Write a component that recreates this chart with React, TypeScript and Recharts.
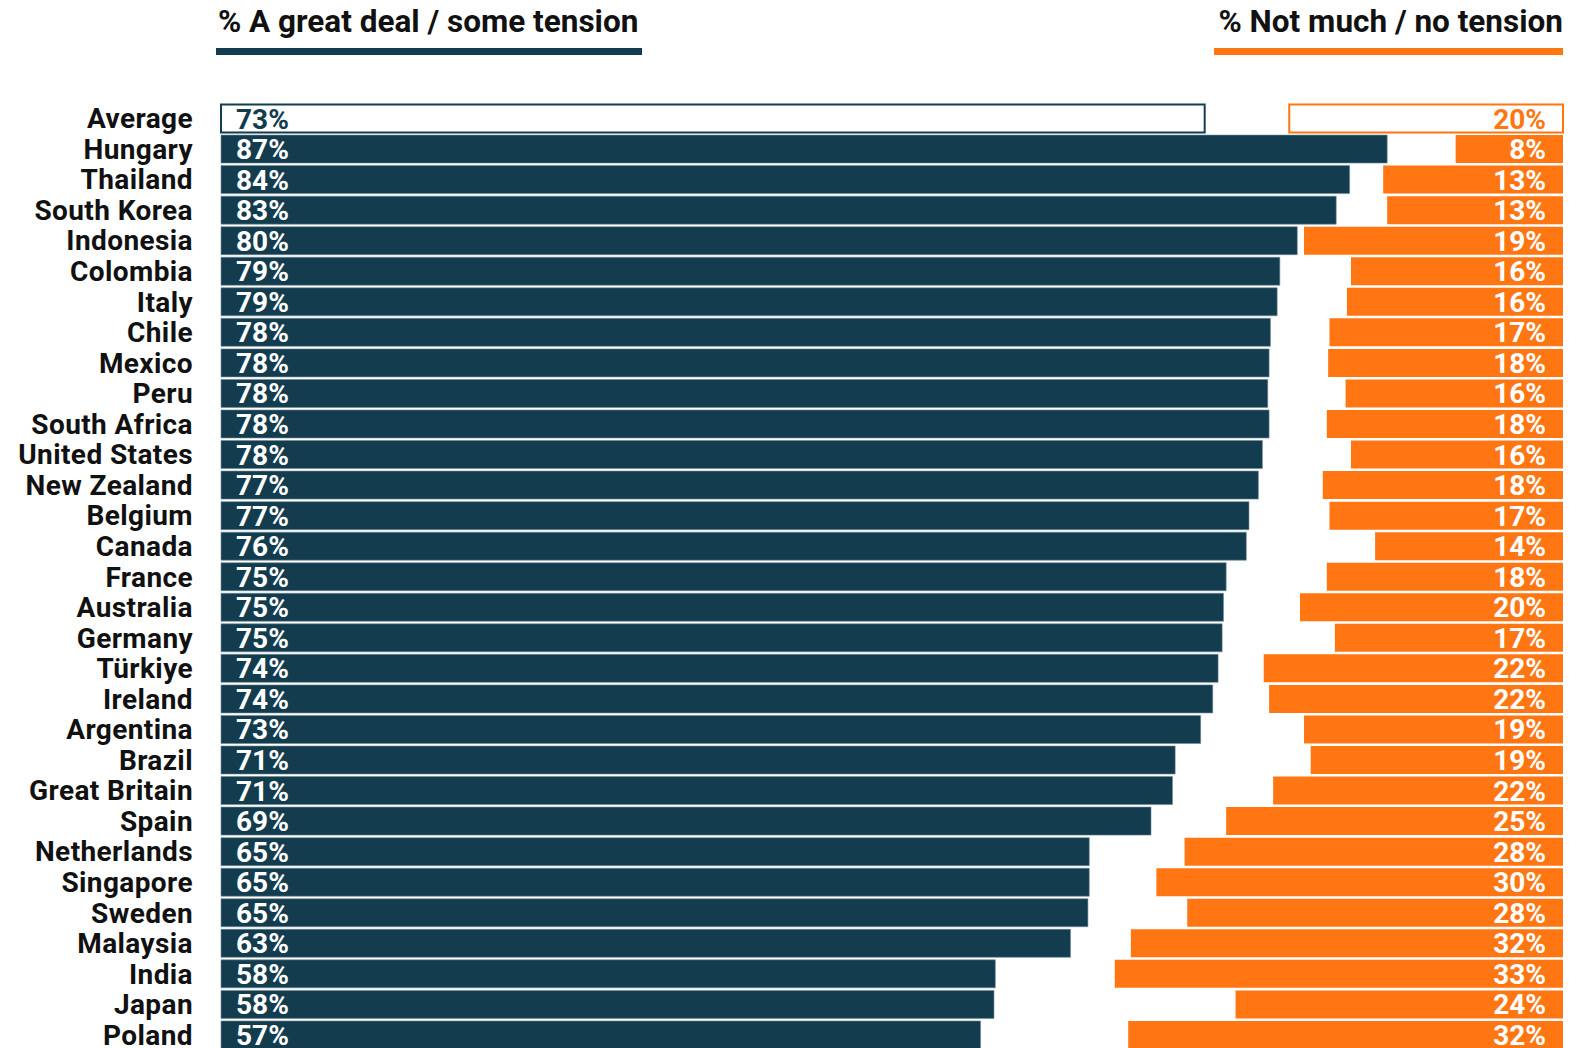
import React from "react";
import { BarChart, Bar, XAxis, YAxis, Cell, LabelList } from "recharts";

const NAVY = "#133c4f";
const ORANGE = "#ff7613";
const FONT = "Roboto, 'DejaVu Sans', sans-serif";

const countries = [
    "Average", "Hungary", "Thailand", "South Korea", "Indonesia", "Colombia", "Italy",
    "Chile", "Mexico", "Peru", "South Africa", "United States", "New Zealand", "Belgium",
    "Canada", "France", "Australia", "Germany", "Türkiye", "Ireland", "Argentina",
    "Brazil", "Great Britain", "Spain", "Netherlands", "Singapore", "Sweden", "Malaysia",
    "India", "Japan", "Poland",
];

// % a great deal / some tension
const tension = [
    73.3, 86.9, 84.1, 83.1, 80.2, 78.9, 78.7, 78.2, 78.1, 78.0, 78.1, 77.6, 77.3, 76.6,
    76.4, 74.9, 74.7, 74.6, 74.3, 73.9, 73.0, 71.1, 70.9, 69.3, 64.7, 64.7, 64.6, 63.3,
    57.7, 57.6, 56.6,
];

// % not much / no tension
const noTension = [
    20.4, 8.0, 13.4, 13.1, 19.3, 15.8, 16.1, 17.4, 17.5, 16.2, 17.6, 15.8, 17.9, 17.4,
    14.0, 17.6, 19.6, 17.0, 22.3, 21.9, 19.3, 18.8, 21.6, 25.1, 28.2, 30.3, 28.0, 32.2,
    33.4, 24.4, 32.4,
];

const rows = countries.map((name, i) => ({
    name,
    tension: tension[i],
    gap: 100 - tension[i] - noTension[i],
    noTension: noTension[i],
}));

const CategoryTick = (props: any) => {
    const { y, payload } = props;
    return (
        <text x={193} y={y} dy={10} textAnchor="end" fontFamily={FONT} fontWeight={700} fontSize={28}
            letterSpacing={0.4} fill="#111">
            {payload.value}
        </text>
    );
};

const LeftLabel = (props: any) => {
    const { x, y, height, value, index } = props;
    return (
        <text x={x + 15} y={y + height / 2} dy={10} textAnchor="start" fontFamily={FONT} fontWeight={700} fontSize={28}
            fill={index === 0 ? NAVY : "#fff"}>
            {Math.round(value)}%
        </text>
    );
};

const RightLabel = (props: any) => {
    const { x, y, width, height, value, index } = props;
    return (
        <text x={x + width - 17} y={y + height / 2} dy={10} textAnchor="end" fontFamily={FONT} fontWeight={700} fontSize={28}
            fill={index === 0 ? ORANGE : "#fff"}>
            {Math.round(value)}%
        </text>
    );
};

const headerText: React.CSSProperties = {
    position: "absolute",
    top: 2,
    fontFamily: FONT,
    fontWeight: 700,
    fontSize: 31.5,
    lineHeight: "40px",
    color: "#111",
    whiteSpace: "nowrap",
};

export default function App() {
    return (
        <div style={{ position: "absolute", left: 0, top: 0, width: 1590, height: 1048, background: "#fff", overflow: "hidden" }}>
            <div style={{ ...headerText, left: 218 }}>% A great deal / some tension</div>
            <div style={{ position: "absolute", left: 216, top: 48, width: 426, height: 7, background: NAVY }} />
            <div style={{ ...headerText, right: 27 }}>% Not much / no tension</div>
            <div style={{ position: "absolute", left: 1214, top: 48, width: 349, height: 7, background: ORANGE }} />

            <div style={{ position: "absolute", left: 0, top: 0 }}>
                <BarChart
                    width={1590}
                    height={1050}
                    data={rows}
                    layout="vertical"
                    margin={{ top: 103, right: 27, bottom: 0, left: 0 }}
                    barCategoryGap={1.5}
                >
                    <XAxis type="number" domain={[0, 100]} hide />
                    <YAxis
                        type="category"
                        dataKey="name"
                        width={221}
                        axisLine={false}
                        tickLine={false}
                        interval={0}
                        tick={<CategoryTick />}
                    />
                    <Bar dataKey="tension" stackId="a" fill={NAVY} isAnimationActive={false}>
                        {rows.map((_, i) => (
                            <Cell key={i} fill={i === 0 ? "#fff" : NAVY} stroke={i === 0 ? NAVY : "#6f8a97"}
                                strokeWidth={i === 0 ? 2 : 0.6} />
                        ))}
                        <LabelList dataKey="tension" content={<LeftLabel />} />
                    </Bar>
                    <Bar dataKey="gap" stackId="a" fill="transparent" isAnimationActive={false} />
                    <Bar dataKey="noTension" stackId="a" fill={ORANGE} isAnimationActive={false}>
                        {rows.map((_, i) => (
                            <Cell key={i} fill={i === 0 ? "#fff" : ORANGE} stroke={i === 0 ? ORANGE : "none"}
                                strokeWidth={2} />
                        ))}
                        <LabelList dataKey="noTension" content={<RightLabel />} />
                    </Bar>
                </BarChart>
            </div>
        </div>
    );
}
